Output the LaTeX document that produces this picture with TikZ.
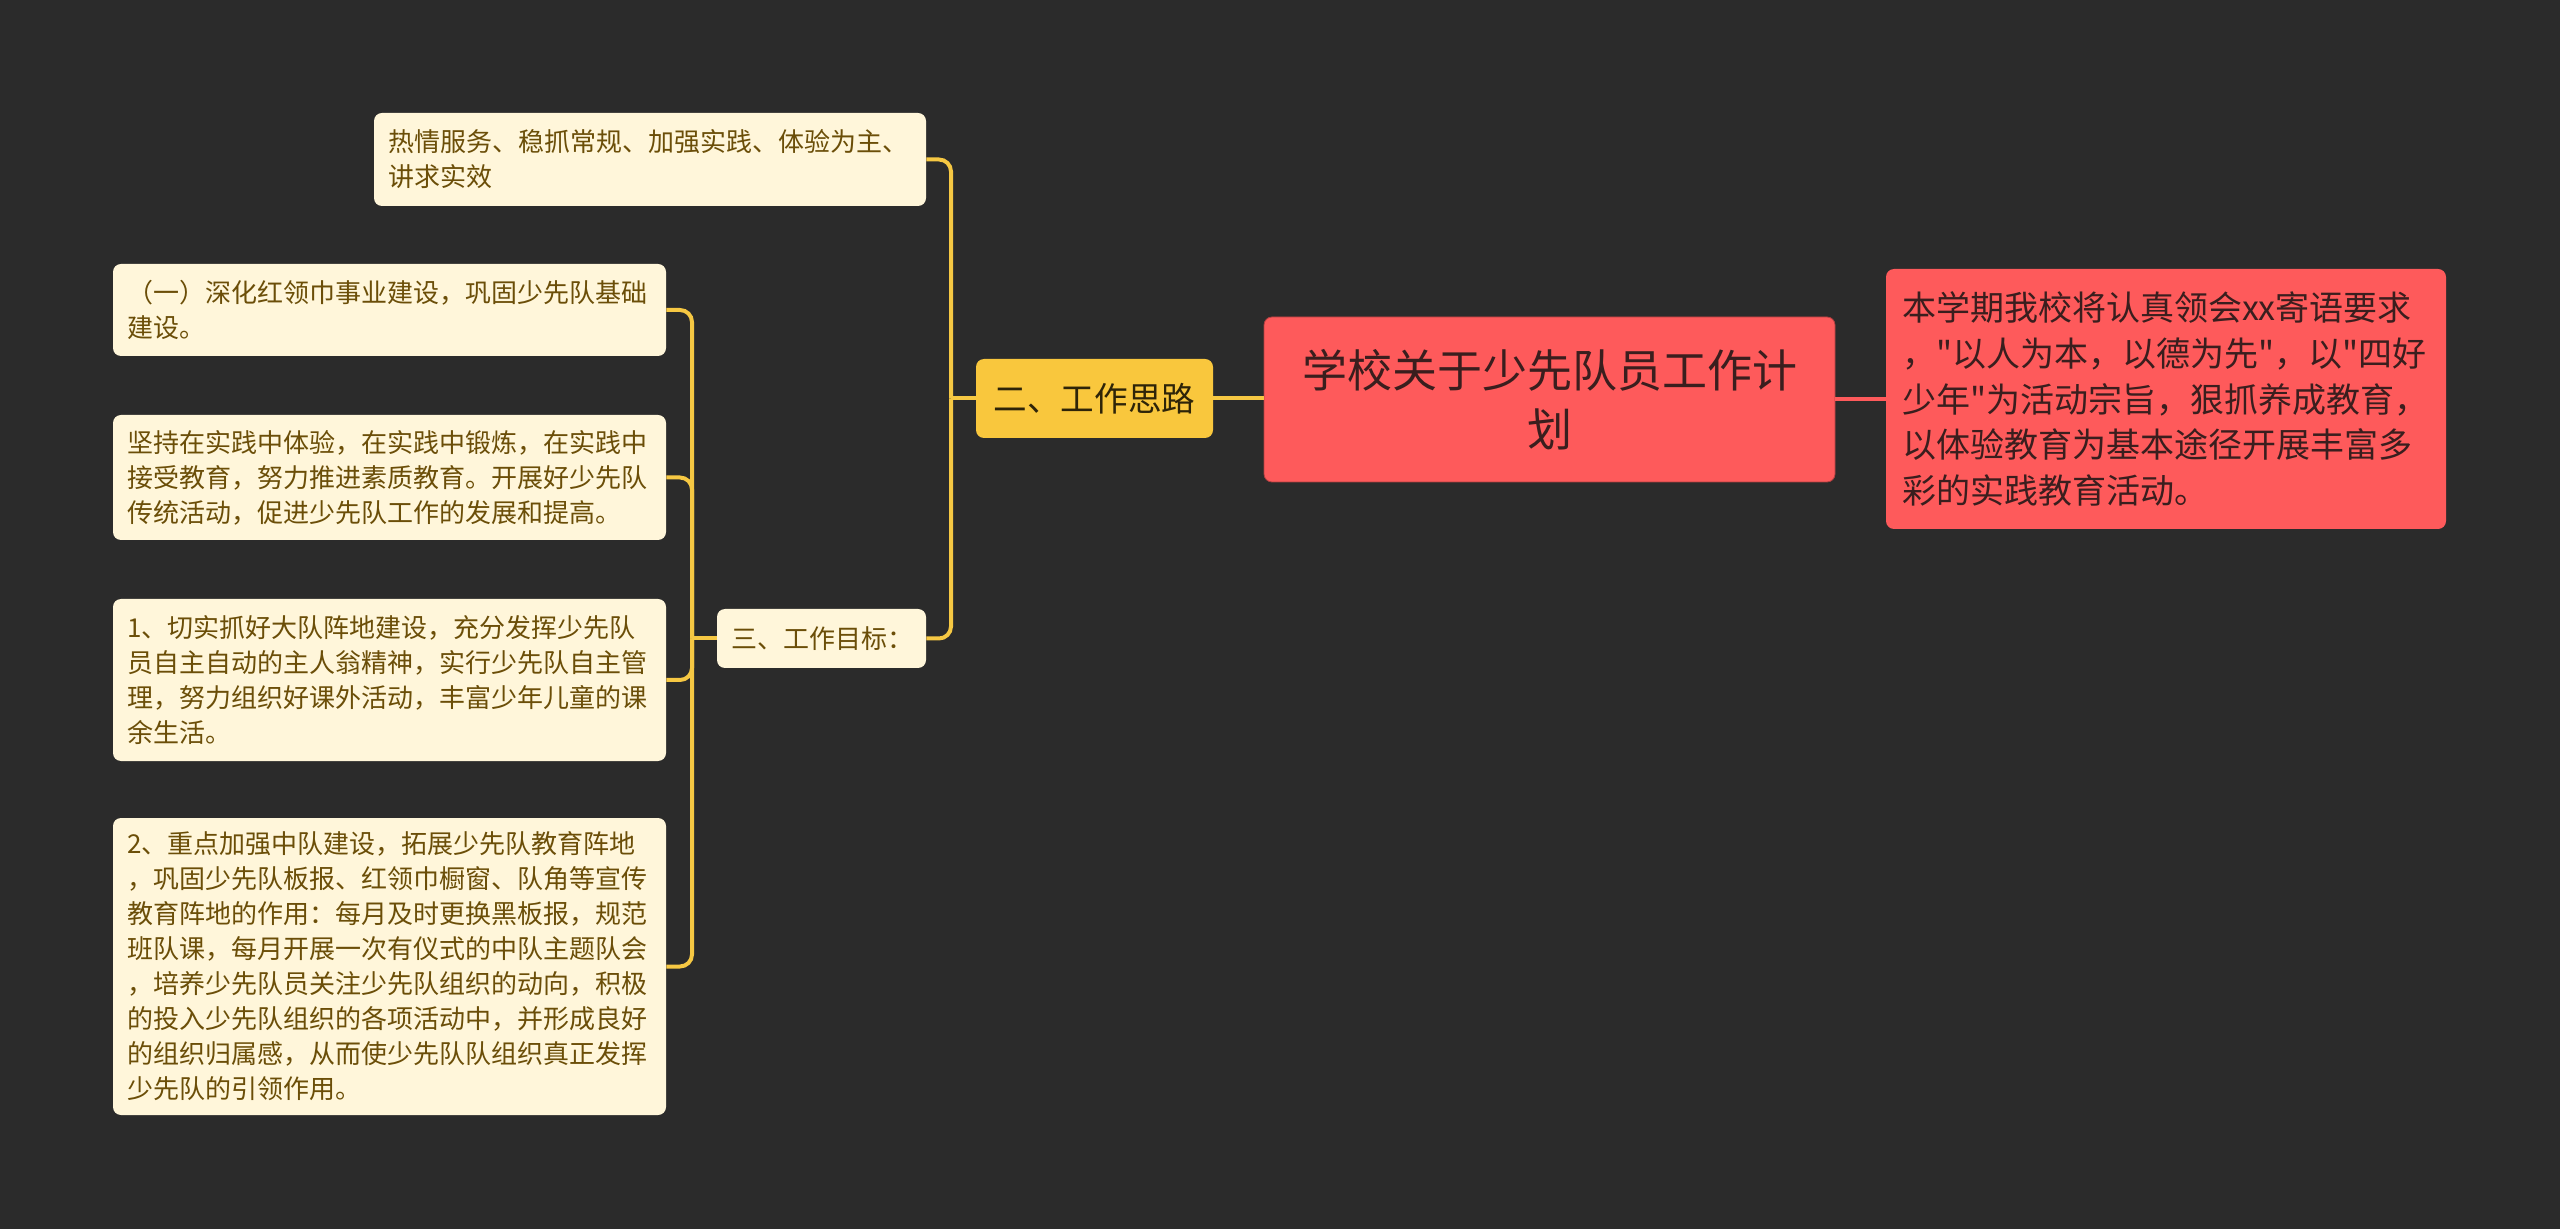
\documentclass[tikz,border=0pt]{standalone}
\usepackage{fontspec}
\newfontfamily\cjk{Noto Sans CJK SC}
\definecolor{bg}{HTML}{2B2B2B}
\definecolor{leafbg}{HTML}{FFF6DA}
\definecolor{leaftext}{HTML}{6B4E08}
\definecolor{gold}{HTML}{F9C73D}
\definecolor{goldtext}{HTML}{2E2408}
\definecolor{lineyellow}{HTML}{F6C843}
\definecolor{redbox}{HTML}{FE5A5B}
\definecolor{redtext}{HTML}{3A1E1E}
\begin{document}
\begin{tikzpicture}[x=0.5pt,y=-0.5pt,
  leaf/.style={fill=leafbg, text=leaftext, rounded corners=4pt,
    font=\cjk\fontsize{13}{17.5}\selectfont, align=left, inner xsep=7pt, inner ysep=0pt},
  goldbox/.style={fill=gold, text=goldtext, rounded corners=4pt,
    font=\cjk\fontsize{16.8}{22}\selectfont, align=center, inner sep=0pt},
  rootbox/.style={fill=redbox, draw=redbox!70!black, line width=0.4pt, text=redtext, rounded corners=4pt,
    font=\cjk\fontsize{22.5}{29.5}\selectfont, align=center, inner sep=0pt},
  infobox/.style={fill=redbox, text=redtext, rounded corners=4pt,
    font=\cjk\fontsize{17}{22.9}\selectfont, align=left, inner xsep=8pt, inner ysep=0pt},
  conn/.style={draw=lineyellow, line width=2pt, rounded corners=6pt},
  redconn/.style={draw=redbox, line width=2pt}
]
\useasboundingbox[fill=bg] (0,0) rectangle (2560,1229);

\node[rootbox, minimum width=285.5pt, minimum height=82.5pt] (root) at (1549.5,399.5)
  {学校关于少先队员工作计\\划};
\node[infobox, minimum width=280pt, minimum height=130pt, text width=264pt] (info) at (2166,399)
  {本学期我校将认真领会xx寄语要求\\，"以人为本，以德为先"，以"四好\\少年"为活动宗旨，狠抓养成教育，\\以体验教育为基本途径开展丰富多\\彩的实践教育活动。};
\node[goldbox, minimum width=118.5pt, minimum height=39.5pt] (g) at (1094.5,398.5) {二、工作思路};
\node[leaf, minimum width=276pt, minimum height=46.5pt, text width=262pt] (a) at (650,159.5)
  {热情服务、稳抓常规、加强实践、体验为主、\\讲求实效};
\node[leaf, minimum width=104.5pt, minimum height=29.5pt, text width=90.5pt] (f) at (821.5,638.5)
  {三、工作目标：};
\node[leaf, minimum width=276.5pt, minimum height=46pt, text width=262.5pt] (b) at (389.5,310)
  {（一）深化红领巾事业建设，巩固少先队基础\\建设。};
\node[leaf, minimum width=276.5pt, minimum height=62.5pt, text width=262.5pt] (c) at (389.5,477.5)
  {坚持在实践中体验，在实践中锻炼，在实践中\\接受教育，努力推进素质教育。开展好少先队\\传统活动，促进少先队工作的发展和提高。};
\node[leaf, minimum width=276.5pt, minimum height=81pt, text width=262.5pt] (d) at (389.5,680)
  {1、切实抓好大队阵地建设，充分发挥少先队\\员自主自动的主人翁精神，实行少先队自主管\\理，努力组织好课外活动，丰富少年儿童的课\\余生活。};
\node[leaf, minimum width=276.5pt, minimum height=148.5pt, text width=262.5pt] (e) at (389.5,966.5)
  {2、重点加强中队建设，拓展少先队教育阵地\\，巩固少先队板报、红领巾橱窗、队角等宣传\\教育阵地的作用：每月及时更换黑板报，规范\\班队课，每月开展一次有仪式的中队主题队会\\，培养少先队员关注少先队组织的动向，积极\\的投入少先队组织的各项活动中，并形成良好\\的组织归属感，从而使少先队队组织真正发挥\\少先队的引领作用。};

\coordinate (gj) at (951,398.5);
\coordinate (fj) at (692,638.5);

\draw[redconn] (root.east) -- (root.east -| info.west);
\draw[conn] (g.east) -- (g.east -| root.west);
\draw[conn] (g.west) -- (gj);
\draw[conn] (gj) |- (a.east);
\draw[conn] (gj) |- (f.east);
\draw[conn] (f.west) -- (fj);
\draw[conn] (fj) |- (b.east);
\draw[conn] (fj) |- (c.east);
\draw[conn] (fj) |- (d.east);
\draw[conn] (fj) |- (e.east);
\end{tikzpicture}
\end{document}
